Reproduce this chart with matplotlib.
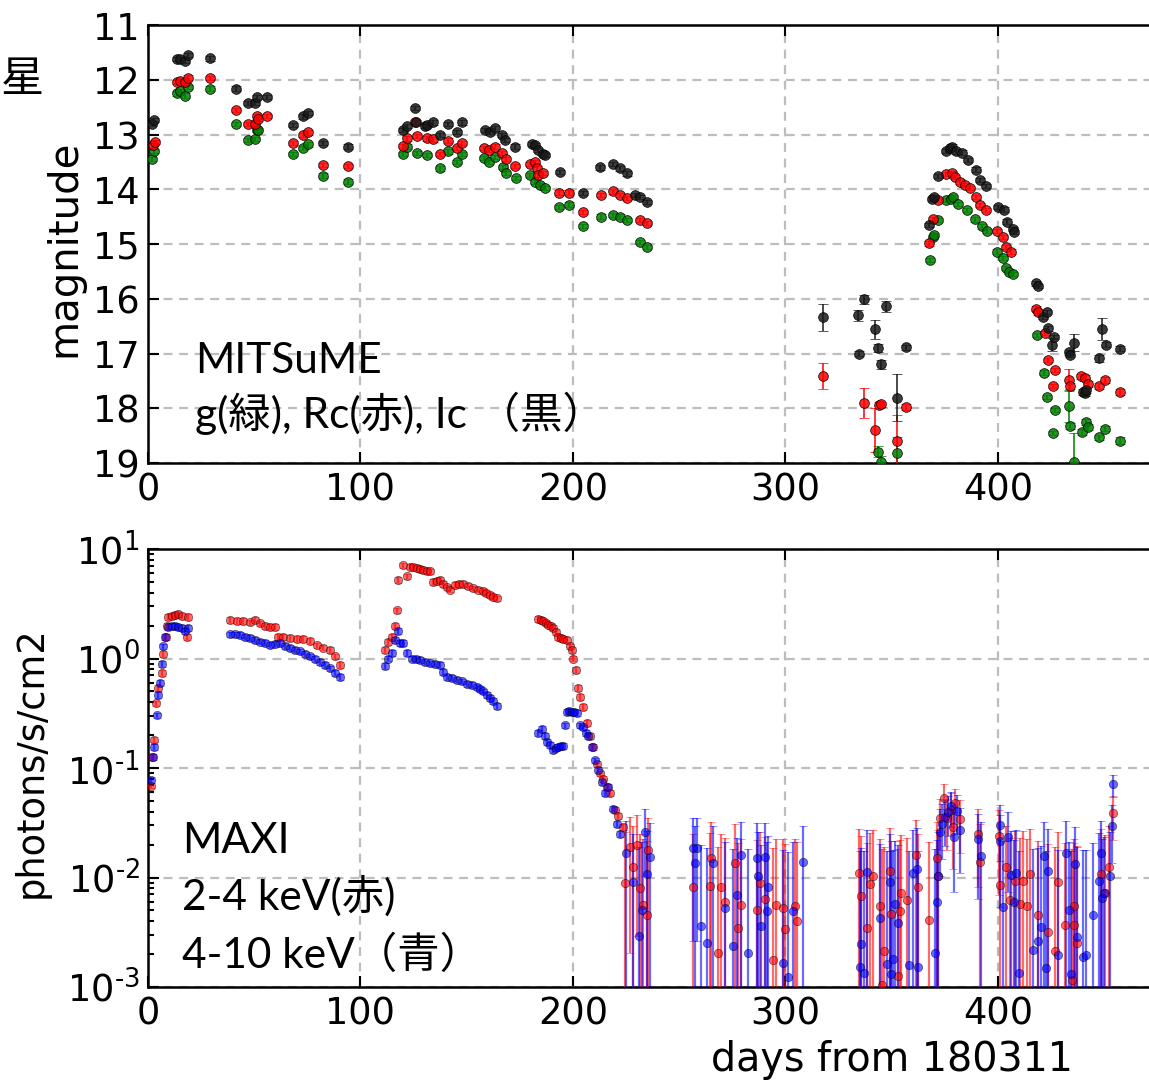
import numpy as np
import matplotlib.pyplot as plt
from matplotlib.ticker import FuncFormatter, LogLocator, NullFormatter

plt.rcParams['font.family'] = ['DejaVu Sans']
plt.rcParams['mathtext.fontset'] = 'dejavusans'
ANNOT = ['Lato', 'Noto Sans CJK JP', 'DejaVu Sans']

# ---------------- MITSuME optical (days, magnitude, error) ----------------
t_ic = [1.9, 2.8, 13.5, 15.0, 17.4, 18.9, 29.2, 41.4, 47.2, 50.4, 51.1, 56.1,
        68.4, 73.1, 75.4, 82.5, 94.3, 120.1, 121.7, 125.6, 126.0, 130.4, 131.1,
        134.3, 137.4, 141.3, 145.3, 147.6, 158.6, 160.9, 163.3, 166.4, 168.0,
        172.7, 180.5, 182.1, 183.7, 186.0, 186.8, 193.9, 204.9, 212.7, 219.0,
        222.1, 225.3, 229.0, 231.5, 234.7,
        317.5, 334.3, 337.0, 334.8, 342.1, 343.7, 344.8, 347.3, 352.6, 356.7,
        367.7, 368.8, 369.9, 371.9, 375.8, 377.4, 378.5, 380.5, 382.9, 386.0,
        389.6, 391.5, 394.4, 400.1, 402.8, 404.4, 406.9, 407.5, 417.9, 419.0,
        421.3, 422.9, 423.7, 425.3, 426.4, 433.3, 433.8, 435.8, 440.1, 440.9,
        441.7, 447.7, 448.8, 450.8, 457.7]
ic = [12.80, 12.74, 11.62, 11.62, 11.65, 11.55, 11.61, 12.16, 12.42, 12.42,
      12.31, 12.31, 12.83, 12.67, 12.61, 13.16, 13.22, 12.92, 12.84, 12.52,
      12.77, 12.84, 12.83, 12.78, 13.01, 12.81, 12.95, 12.78, 12.92, 12.95,
      12.89, 13.01, 13.10, 13.22, 13.17, 13.19, 13.28, 13.36, 13.37, 13.68,
      14.07, 13.60, 13.54, 13.62, 13.71, 14.10, 14.14, 14.23,
      16.34, 16.30, 16.01, 17.00, 16.56, 16.90, 17.20, 16.14, 17.81, 16.89,
      14.65, 14.18, 14.15, 13.76, 13.30, 13.25, 13.22, 13.31, 13.33, 13.47,
      13.64, 13.83, 13.94, 14.32, 14.37, 14.59, 14.73, 14.78, 15.72, 15.77,
      16.33, 16.24, 16.54, 16.84, 16.70, 16.98, 17.02, 16.80, 17.70, 17.73,
      17.67, 17.09, 16.56, 16.84, 16.91]
ic_err = [0.04] * 48 + \
         [0.24, 0.10, 0.08, 0.05, 0.17, 0.08, 0.08, 0.10, 0.43, 0.05] + \
         [0.04] * 23 + [0.12, 0.04, 0.05, 0.05, 0.15, 0.05, 0.05, 0.05,
                        0.06, 0.20, 0.05, 0.05]

t_rc = [2.4, 3.3, 13.5, 15.0, 17.4, 18.9, 29.2, 41.4, 47.2, 50.4, 51.1, 52.0,
        56.1, 68.4, 73.1, 75.4, 82.5, 94.3, 120.1, 121.7, 125.6, 126.4, 131.1,
        134.3, 137.4, 141.3, 145.3, 147.6, 158.1, 160.6, 163.3, 166.4, 168.5,
        172.7, 179.8, 182.1, 182.9, 183.7, 186.0, 193.6, 198.3, 204.9, 213.0,
        219.0, 222.1, 225.3, 231.5, 234.7,
        317.5, 337.0, 342.1, 344.1, 344.9, 352.3, 356.7,
        367.7, 369.3, 371.9, 375.8, 378.2, 379.8, 382.1, 384.5, 386.8, 389.6,
        391.5, 394.4, 399.7, 402.5, 403.8, 406.4, 417.9, 419.0, 422.1, 423.7,
        425.7, 426.8, 433.6, 433.9, 439.3, 440.9, 442.5, 447.7, 450.4, 457.7]
rc = [13.20, 13.14, 12.04, 12.02, 12.04, 11.96, 11.97, 12.55, 12.81, 12.80,
      12.67, 12.72, 12.66, 13.16, 13.01, 12.96, 13.56, 13.58, 13.21, 13.07,
      12.77, 13.03, 13.07, 13.09, 13.36, 13.11, 13.25, 13.15, 13.25, 13.28,
      13.22, 13.34, 13.45, 13.58, 13.54, 13.50, 13.62, 13.74, 13.70, 14.06,
      14.06, 14.41, 14.10, 14.04, 14.10, 14.16, 14.56, 14.62,
      17.41, 17.90, 18.40, 17.94, 17.93, 18.59, 17.98,
      14.99, 14.55, 14.20, 13.72, 13.71, 13.78, 13.86, 13.92, 13.98, 14.14,
      14.29, 14.38, 14.76, 14.87, 15.06, 15.14, 16.18, 16.25, 16.63, 17.12,
      17.59, 17.30, 17.48, 17.59, 17.42, 17.45, 17.56, 17.59, 17.48, 17.70]
rc_err = [0.04] * 48 + [0.24, 0.27, 0.40, 0.05, 0.05, 0.47, 0.05] + \
         [0.04] * 22 + [0.20, 0.05, 0.05, 0.05, 0.05, 0.05, 0.05, 0.05]

t_g = [1.9, 2.8, 13.5, 15.0, 17.4, 18.9, 29.2, 41.4, 47.2, 50.4, 51.1, 52.0,
       68.4, 73.1, 75.4, 82.5, 94.3, 120.1, 121.7, 126.4, 131.1, 137.4, 141.3,
       145.3, 147.6, 158.1, 160.6, 163.3, 167.2, 168.5, 173.2, 179.8, 182.1,
       184.5, 186.8, 193.6, 198.3, 204.9, 213.0, 219.0, 222.1, 225.3, 231.5,
       234.7,
       343.7, 344.8, 352.3,
       368.0, 369.3, 369.9, 371.9, 375.8, 377.7, 378.9, 381.3, 385.3, 389.2,
       392.3, 394.7, 399.4, 402.2, 403.8, 405.3, 406.9, 418.2, 421.6, 422.9,
       425.7, 426.8, 433.6, 433.9, 435.8, 439.8, 441.4, 442.5, 447.7, 450.4,
       457.7]
g = [13.45, 13.30, 12.25, 12.20, 12.29, 12.13, 12.16, 12.81, 13.10, 13.08,
     12.92, 12.92, 13.36, 13.25, 13.18, 13.75, 13.86, 13.36, 13.22, 13.34,
     13.37, 13.62, 13.31, 13.50, 13.36, 13.43, 13.50, 13.41, 13.59, 13.70,
     13.80, 13.74, 13.86, 13.92, 13.98, 14.32, 14.28, 14.67, 14.50, 14.47,
     14.50, 14.56, 14.96, 15.05,
     18.79, 18.98, 18.81,
     15.29, 14.87, 14.83, 14.56, 14.20, 14.18, 14.14, 14.27, 14.38, 14.55,
     14.68, 14.76, 15.14, 15.26, 15.44, 15.51, 15.55, 16.66, 17.35, 17.79,
     18.45, 18.03, 17.96, 18.32, 18.98, 18.43, 18.25, 18.34, 18.53, 18.37,
     18.59]
g_err = [0.04] * 44 + [0.10, 0.10, 0.29] + [0.04] * 22 + \
        [0.30, 0.05, 0.52, 0.05, 0.05, 0.05, 0.05, 0.05, 0.06]

# ---------------- MAXI X-ray (days, log10 photons/s/cm2) ----------------
t_lo = [1.3, 1.7, 2.6, 3.8, 4.9, 6.4, 7.2, 8.3, 8.8, 9.6, 11.1, 12.7, 14.3,
        15.9, 18.2, 19.0,
        38.6, 41.7, 44.9, 48.0, 50.4, 52.7, 55.1, 57.4, 59.8, 61.3, 63.7,
        66.8, 70.0, 73.1, 76.2, 79.4, 82.5, 85.6, 88.0, 90.4,
        111.5, 113.1, 114.7, 116.2, 117.0, 117.8, 120.1, 121.7, 123.3, 124.8,
        126.4, 128.0, 129.6, 131.1, 132.7, 134.3, 135.9, 137.4, 139.0, 140.5,
        142.1, 144.5, 146.4, 148.4, 150.7, 153.1, 155.5, 157.8, 159.3, 160.9,
        162.5, 164.1,
        183.7, 184.9, 186.0, 187.2, 188.4, 189.6, 190.7, 192.0, 193.1, 194.3,
        195.4, 197.0, 198.6, 199.4, 200.2, 201.4, 202.5, 203.3, 204.6, 206.4,
        208.0, 209.6, 211.1, 212.7, 214.2, 215.8, 217.4, 219.8, 221.3, 223.7]
lf_lo = [-1.16, -0.90, -0.74, -0.41, -0.27, -0.13, 0.04, 0.20, 0.30, 0.38,
         0.39, 0.40, 0.41, 0.39, 0.20, 0.38,
         0.35, 0.34, 0.345, 0.33, 0.35, 0.32, 0.30, 0.29, 0.29, 0.20, 0.20,
         0.19, 0.18, 0.18, 0.16, 0.12, 0.10, 0.08, 0.02, -0.06,
         0.08, 0.15, 0.20, 0.30, 0.44, 0.72, 0.85, 0.75, 0.84, 0.835,
         0.83, 0.82, 0.81, 0.80, 0.795, 0.70, 0.71, 0.72, 0.68, 0.65,
         0.63, 0.67, 0.68, 0.68, 0.66, 0.64, 0.63, 0.62, 0.60, 0.58,
         0.565, 0.55,
         0.36, 0.35, 0.34, 0.325, 0.31, 0.295, 0.28, 0.24, 0.20, 0.19,
         0.18, 0.17, 0.11, 0.08, 0.00, -0.105, -0.27, -0.35, -0.44, -0.59,
         -0.71, -0.81, -0.96, -1.05, -1.10, -1.17, -1.23, -1.38, -1.44, -1.54]
t_lo_faint = [224.5, 226.8, 228.4, 230.0, 231.5, 233.1, 234.7, 235.5,
              256.6, 264.5, 264.8, 268.4, 269.9, 271.5, 276.2, 277.8, 279.3,
              286.4, 288.0, 290.4, 294.3, 295.8, 299.0, 299.8, 304.5, 305.3,
              334.7, 335.8, 338.5, 339.8, 341.4, 344.5, 345.3, 346.4, 349.2,
              349.5, 353.0, 353.8, 354.6, 357.1, 361.4, 362.2, 367.6, 371.3,
              371.6, 372.8, 374.7, 375.9, 377.7, 378.9, 380.0, 382.0, 390.5,
              391.8, 400.6, 400.9, 403.7, 405.9, 407.9, 410.3, 411.8, 413.7,
              415.3, 418.9, 423.6, 426.7, 428.2, 431.8, 435.0, 435.6, 436.0,
              437.1, 448.4, 450.4, 452.3, 454.3]
lf_lo_faint = [-2.05, -1.72, -1.90, -1.70, -2.10, -2.25, -2.34, -1.75,
               -2.09, -2.08, -1.82, -2.69, -2.09, -2.22, -1.87, -2.46, -2.25,
               -2.30, -2.05, -2.20, -2.75, -2.25, -2.28, -2.47, -2.26, -2.40,
               -1.96, -2.17, -2.46, -2.06, -1.99, -2.26, -2.98, -2.67, -1.94,
               -2.33, -2.90, -2.31, -2.14, -2.21, -1.79, -2.09, -2.39, -1.82,
               -1.99, -1.46, -1.27, -1.46, -1.38, -1.54, -1.32, -1.47, -1.60,
               -1.86, -1.62, -2.07, -1.90, -2.21, -2.03, -2.24, -2.03, -2.26,
               -1.97, -2.34, -2.50, -2.67, -2.04, -2.43, -2.94, -2.26, -2.43,
               -2.60, -1.97, -2.14, -1.90, -1.41]

t_hi = [1.3, 2.2, 2.8, 4.1, 4.9, 5.6, 6.4, 7.2, 8.0, 9.6, 11.1, 12.7, 14.3,
        15.9, 17.4, 19.0,
        38.6, 41.0, 43.3, 45.6, 48.0, 50.4, 52.7, 55.1, 57.4, 59.8, 62.1,
        64.5, 66.8, 69.1, 71.5, 73.8, 76.2, 78.5, 80.9, 83.3, 85.6, 88.0, 90.4,
        111.5, 113.1, 114.7, 116.2, 117.8, 118.6, 120.1, 121.7, 124.1, 126.0,
        128.0, 130.4, 132.7, 135.0, 137.4, 139.0, 140.5, 142.9, 145.3, 147.6,
        150.0, 152.3, 154.7, 156.2, 157.8, 159.4, 160.9, 162.5, 164.1,
        183.7, 185.2, 186.8, 188.0, 189.2, 190.7, 192.0, 193.1, 194.3, 195.4,
        196.2, 197.0, 198.2, 199.4, 200.5, 201.7, 203.3, 204.9, 206.0, 207.2,
        208.8, 210.4, 212.0, 213.5, 215.1, 216.6, 219.0, 220.5, 222.1]
lf_hi = [-1.11, -0.90, -0.81, -0.52, -0.33, -0.22, -0.05, 0.11, 0.20, 0.29,
         0.295, 0.295, 0.29, 0.28, 0.25, 0.28,
         0.22, 0.22, 0.215, 0.20, 0.185, 0.17, 0.155, 0.14, 0.125, 0.13, 0.14,
         0.115, 0.095, 0.08, 0.065, 0.045, 0.02, -0.005, -0.03, -0.06, -0.09,
         -0.13, -0.17,
         -0.07, 0.00, 0.05, 0.17, 0.25, 0.14, 0.14, 0.05, 0.00, -0.005,
         -0.015, -0.03, -0.045, -0.05, -0.06, -0.12, -0.17, -0.18, -0.195,
         -0.21, -0.23, -0.24, -0.26, -0.28, -0.30, -0.33, -0.36, -0.39, -0.43,
         -0.68, -0.64, -0.71, -0.76, -0.79, -0.84, -0.82, -0.81, -0.80, -0.80,
         -0.61, -0.49, -0.48, -0.49, -0.49, -0.50, -0.61, -0.63, -0.68, -0.71,
         -0.81, -0.93, -1.02, -1.13, -1.23, -1.17, -1.37, -1.51, -1.60]
t_hi_faint = [224.9, 228.4, 231.2, 232.3, 233.9, 234.7, 236.3,
              256.6, 257.4, 258.2, 260.5, 263.2, 266.0, 271.5, 275.4, 277.3,
              279.3, 282.4, 286.4, 287.1, 288.7, 290.4, 291.1, 292.0, 298.7,
              301.4, 303.7, 308.4,
              335.3, 335.8, 336.9, 338.5, 344.5, 347.6, 349.2, 349.5, 350.7,
              351.8, 353.0, 358.2, 360.2, 361.7, 362.2, 370.3, 371.3, 371.6,
              372.8, 373.5, 375.0, 376.3, 377.8, 379.4, 380.6, 382.2, 390.5,
              392.1, 400.9, 401.2, 402.4, 404.7, 406.3, 407.4, 408.6, 409.9,
              416.4, 418.7, 420.3, 421.9, 422.7, 423.4, 428.2, 432.0, 433.3,
              434.3, 436.4, 437.1, 439.9, 441.5, 444.6, 447.5, 448.4, 448.9,
              450.1, 452.6, 453.6, 454.2]
lf_hi_faint = [-1.78, -2.04, -2.53, -2.30, -1.58, -1.97, -1.81,
               -1.73, -1.87, -1.73, -2.44, -2.60, -1.87, -2.28, -2.63, -2.16,
               -1.79, -2.69, -1.82, -1.99, -2.44, -1.81, -2.31, -2.09, -2.78,
               -2.91, -2.31, -1.86,
               -2.82, -2.61, -2.87, -1.95, -2.37, -2.79, -2.04, -2.88, -2.74,
               -2.24, -2.42, -2.80, -1.96, -1.92, -2.82, -2.69, -2.22, -1.99,
               -1.58, -1.51, -1.45, -1.40, -1.35, -1.63, -1.39, -1.57, -1.65,
               -1.80, -1.52, -1.67, -2.27, -1.63, -1.98, -2.22, -1.96, -2.87,
               -2.66, -2.58, -2.45, -1.80, -2.83, -1.94, -2.71, -1.78, -2.30,
               -2.88, -1.88, -2.54, -2.73, -2.71, -2.34, -2.03, -1.78, -2.19,
               -2.14, -1.99, -1.53, -1.15]
bright_rel_err = 0.06
faint_err_lo = 0.017
faint_err_hi = 0.016

fig = plt.figure(figsize=(11.49, 10.81), dpi=100)
ax1 = fig.add_axes([148 / 1149, 1 - 463 / 1081, 1005 / 1149, 438 / 1081])
ax2 = fig.add_axes([148 / 1149, 1 - 987 / 1081, 1005 / 1149, 438 / 1081])

grid_kw = dict(color='#bdbdbd', linestyle=(0, (4, 3)), linewidth=1.6)
for ax in (ax1, ax2):
    ax.set_xlim(0, 473)
    ax.set_xticks([0, 100, 200, 300, 400])
    ax.grid(True, **grid_kw)
    ax.set_axisbelow(True)
    ax.tick_params(which='both', direction='in', top=True, right=False,
                   labelsize=26.5, width=1.5, pad=6)
    ax.tick_params(which='major', length=8)
    ax.tick_params(which='minor', length=4)
    for s in ax.spines.values():
        s.set_linewidth(1.8)
    ax.spines['right'].set_visible(False)

# top: optical
pt_kw = dict(fmt='o', ms=7, mec='k', mew=0.6, capsize=3.5, elinewidth=1.3,
             alpha=0.85, zorder=3)
ax1.errorbar(t_g, g, yerr=g_err, color='#008000', ecolor='#008000', **pt_kw)
ax1.errorbar(t_rc, rc, yerr=rc_err, color='#ff0000', ecolor='#ff0000', **pt_kw)
ax1.errorbar(t_ic, ic, yerr=ic_err, color='#1a1a1a', ecolor='#1a1a1a', **pt_kw)
ax1.set_ylim(19, 11)
ax1.set_yticks(range(11, 20))
ax1.text(195 / 1149, 1 - 373 / 1081, 'MITSuME', transform=fig.transFigure,
         fontsize=30.5, va='baseline', family=ANNOT)
ax1.text(195 / 1149, 1 - 428 / 1081, 'g(緑), Rc(赤), Ic （黒）',
         transform=fig.transFigure, fontsize=30.5, va='baseline', family=ANNOT)

# bottom: X-ray
x_kw = dict(fmt='o', ms=6, mec='k', mew=0.5, capsize=3, elinewidth=1.6,
            alpha=0.58, zorder=3)
f_lo = 10 ** np.array(lf_lo)
f_hi = 10 ** np.array(lf_hi)
f_lo_faint = 10 ** np.array(lf_lo_faint)
f_hi_faint = 10 ** np.array(lf_hi_faint)
ax2.errorbar(t_lo, f_lo, yerr=f_lo * bright_rel_err, color='#ff0000', **x_kw)
ax2.errorbar(t_lo_faint, f_lo_faint, yerr=faint_err_lo, color='#ff0000', **x_kw)
ax2.errorbar(t_hi, f_hi, yerr=f_hi * bright_rel_err, color='#0000ff', **x_kw)
ax2.errorbar(t_hi_faint, f_hi_faint, yerr=faint_err_hi, color='#0000ff', **x_kw)
ax2.set_yscale('log')
ax2.set_ylim(1e-3, 10)
ax2.yaxis.set_major_locator(LogLocator(base=10, numticks=10))
ax2.yaxis.set_minor_locator(LogLocator(base=10, subs=np.arange(2, 10), numticks=20))
ax2.yaxis.set_minor_formatter(NullFormatter())


def exp_label(v, pos):
    # hyphen instead of the wide math minus, like the original labels
    e = str(int(round(np.log10(v)))).replace('-', '\u2010')
    return r'$\mathregular{10^{%s}}$' % e


ax2.yaxis.set_major_formatter(FuncFormatter(exp_label))
ax2.text(182 / 1149, 1 - 853 / 1081, 'MAXI', transform=fig.transFigure,
         fontsize=30.5, va='baseline', family=ANNOT)
ax2.text(182 / 1149, 1 - 910 / 1081, '2-4 keV(赤)', transform=fig.transFigure,
         fontsize=30.5, va='baseline', family=ANNOT)
ax2.text(182 / 1149, 1 - 968 / 1081, '4-10 keV（青）', transform=fig.transFigure,
         fontsize=30.5, va='baseline', family=ANNOT)

fig.text(22 / 1149, 1 - 80 / 1081, '星', fontsize=31, ha='center', va='center',
         family=['Noto Sans CJK JP'])
fig.text(64 / 1149, 1 - 248 / 1081, 'magnitude', fontsize=29, rotation=90,
         ha='center', va='center')
fig.text(31 / 1149, 1 - 762 / 1081, 'photons/s/cm2', fontsize=26.5, rotation=90,
         ha='center', va='center')
fig.text(892 / 1149, 1 - 1071 / 1081, 'days from 180311', fontsize=28.5,
         ha='center', va='baseline')

fig.savefig('out.png', dpi=100)
